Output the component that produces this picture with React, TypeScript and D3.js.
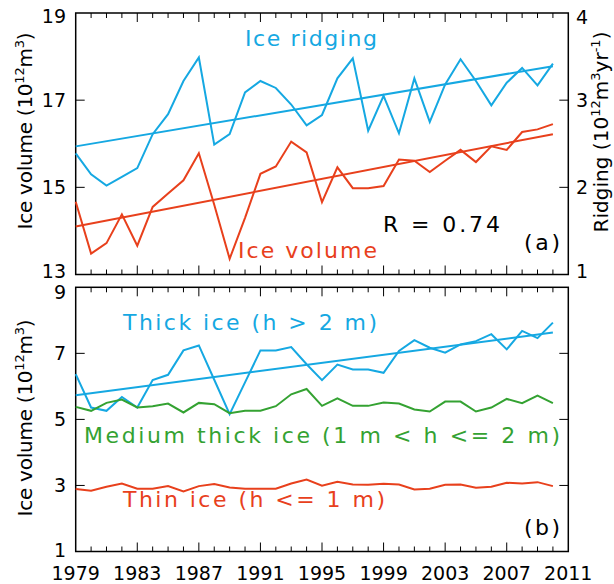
import { useEffect, useRef } from "react";
import * as d3 from "d3";

const years = [
  1979, 1980, 1981, 1982, 1983, 1984, 1985, 1986, 1987, 1988, 1989, 1990, 1991, 1992, 1993, 1994,
  1995, 1996, 1997, 1998, 1999, 2000, 2001, 2002, 2003, 2004, 2005, 2006, 2007, 2008, 2009, 2010,
];
// panel (a)
const iceVolume = [
  14.67, 13.48, 13.72, 14.38, 13.66, 14.55, 14.86, 15.16, 15.78, 14.6, 13.36, 14.3, 15.31, 15.48, 16.05, 15.8,
  14.66, 15.46, 14.98, 14.98, 15.03, 15.64, 15.61, 15.35, 15.61, 15.86, 15.58, 15.94, 15.86, 16.27, 16.33, 16.45,
];
const ridging = [
  2.39, 2.15, 2.02, 2.12, 2.22, 2.61, 2.84, 3.22, 3.49, 2.49, 2.61, 3.09, 3.22, 3.14, 2.95, 2.71,
  2.83, 3.25, 3.48, 2.65, 3.05, 2.62, 3.25, 2.75, 3.18, 3.47, 3.22, 2.94, 3.2, 3.37, 3.17, 3.42,
];
const volumeTrend = [14.1, 16.22];
const ridgingTrend = [2.47, 3.39];
// panel (b)
const thickIce = [
  6.37, 5.36, 5.26, 5.68, 5.36, 6.19, 6.35, 7.09, 7.24, 6.2, 5.16, 6.12, 7.09, 7.09, 7.19, 6.67,
  6.19, 6.66, 6.51, 6.51, 6.41, 7.07, 7.4, 7.17, 7.02, 7.27, 7.37, 7.58, 7.12, 7.68, 7.46, 7.93,
];
const mediumIce = [
  5.38, 5.26, 5.5, 5.6, 5.36, 5.4, 5.48, 5.21, 5.5, 5.46, 5.19, 5.26, 5.26, 5.4, 5.76, 5.92,
  5.41, 5.64, 5.41, 5.41, 5.51, 5.48, 5.3, 5.24, 5.54, 5.54, 5.24, 5.36, 5.62, 5.49, 5.72, 5.49,
];
const thinIce = [
  2.89, 2.84, 2.96, 3.06, 2.9, 2.9, 2.98, 2.82, 2.98, 3.04, 2.94, 2.9, 2.9, 2.9, 3.06, 3.18,
  2.99, 3.11, 3.03, 3.02, 3.05, 3.03, 2.88, 2.9, 3.02, 3.03, 2.93, 2.96, 3.08, 3.06, 3.1, 2.98,
];
const thickTrend = [5.73, 7.63];

const xLabels = [1979, 1983, 1987, 1991, 1995, 1999, 2003, 2007, 2011];
const volumeTicks = [13, 15, 17, 19];
const ridgingTicks = [1, 2, 3, 4];
const layerTicks = [1, 3, 5, 7, 9];

const blue = "#15a8e2";
const red = "#e8401c";
const green = "#34a232";
const font = "'DejaVu Sans', sans-serif";

const left = 75.7, right = 568.3;
const topA = 13, bottomA = 274.5, topB = 287.3, bottomB = 551.5;

export default function App() {
  const svgRef = useRef<SVGSVGElement>(null);

  useEffect(() => {
    const svg = d3.select(svgRef.current);
    svg.selectAll("*").remove();

    const x = d3.scaleLinear().domain([1979, 2011]).range([left, right]);
    const yVol = d3.scaleLinear().domain([13, 19]).range([bottomA, topA]);
    const yRidge = d3.scaleLinear().domain([1, 4]).range([bottomA, topA]);
    const yLayer = d3.scaleLinear().domain([1, 9]).range([bottomB, topB]);

    const minorYears = d3.range(1980, 2011);

    // frame + inward ticks of one panel
    const panel = (y0: number, y1: number, y: any, inner: number[]) => {
      const g = svg.append("g");
      g.append("rect")
        .attr("x", left).attr("y", y0)
        .attr("width", right - left).attr("height", y1 - y0)
        .attr("fill", "none").attr("stroke", "#000").attr("stroke-width", 1.5);

      const size = (yr: number) => ((yr - 1979) % 4 === 0 ? 9 : 5);
      g.selectAll(".tt").data(minorYears).join("line")
        .attr("x1", d => x(d)).attr("x2", d => x(d))
        .attr("y1", y0).attr("y2", d => y0 + size(d))
        .attr("stroke", "#000");
      g.selectAll(".tb").data(minorYears).join("line")
        .attr("x1", d => x(d)).attr("x2", d => x(d))
        .attr("y1", y1).attr("y2", d => y1 - size(d))
        .attr("stroke", "#000");
      g.selectAll(".yl").data(inner).join("line")
        .attr("x1", left).attr("x2", left + 9)
        .attr("y1", d => y(d)).attr("y2", d => y(d))
        .attr("stroke", "#000");
      g.selectAll(".yr").data(inner).join("line")
        .attr("x1", right - 9).attr("x2", right)
        .attr("y1", d => y(d)).attr("y2", d => y(d))
        .attr("stroke", "#000");
    };

    panel(topA, bottomA, yVol, [15, 17]);
    panel(topB, bottomB, yLayer, [3, 5, 7]);

    // tick labels, end labels nudged inside the panel like the original
    const tickText = (data: number[], y: any, tx: number, anchor: string, shiftTop: number, shiftBottom: number) =>
      svg.append("g").selectAll("text").data(data).join("text")
        .attr("x", tx)
        .attr("y", (d, i) => y(d) + (i === data.length - 1 ? shiftTop : i === 0 ? shiftBottom : 0))
        .attr("dy", "0.36em")
        .attr("text-anchor", anchor)
        .attr("font-family", font).attr("font-size", 19)
        .text(d => d);

    tickText(volumeTicks, yVol, 66, "end", 3, -3);
    tickText(ridgingTicks, yRidge, 576, "start", 4, -3);
    tickText(layerTicks, yLayer, 66, "end", 5, -1);

    svg.append("g").selectAll("text").data(xLabels).join("text")
      .attr("x", d => x(d)).attr("y", 580)
      .attr("text-anchor", "middle")
      .attr("font-family", font).attr("font-size", 19)
      .text(d => d);

    // series
    const drawLine = (vals: number[], y: any, color: string) =>
      svg.append("path")
        .datum(vals)
        .attr("fill", "none").attr("stroke", color).attr("stroke-width", 2)
        .attr("d", d3.line<number>().x((_, i) => x(years[i])).y(d => y(d)));

    const drawTrend = (t: number[], y: any, color: string) =>
      svg.append("line")
        .attr("x1", x(years[0])).attr("y1", y(t[0]))
        .attr("x2", x(years[years.length - 1])).attr("y2", y(t[1]))
        .attr("stroke", color).attr("stroke-width", 2);

    drawLine(ridging, yRidge, blue);
    drawTrend(ridgingTrend, yRidge, blue);
    drawLine(iceVolume, yVol, red);
    drawTrend(volumeTrend, yVol, red);

    drawLine(thickIce, yLayer, blue);
    drawTrend(thickTrend, yLayer, blue);
    drawLine(mediumIce, yLayer, green);
    drawLine(thinIce, yLayer, red);

    // annotations
    const label = (txt: string, lx: number, ly: number, len: number, color: string) =>
      svg.append("text")
        .attr("x", lx).attr("y", ly)
        .attr("textLength", len).attr("lengthAdjust", "spacing")
        .attr("font-family", font).attr("font-size", 22)
        .attr("fill", color)
        .text(txt);

    label("Ice ridging", 245, 46, 132, blue);
    label("Ice volume", 238, 258, 139, red);
    label("R = 0.74", 383, 232, 117, "#000");
    label("(a)", 524, 250, 36, "#000");
    label("Thick ice (h > 2 m)", 123, 330, 254, blue);
    label("Medium thick ice (1 m < h <= 2 m)", 84, 443, 476, green);
    label("Thin ice (h <= 1 m)", 123, 507, 262, red);
    label("(b)", 524, 535, 36, "#000");

    // rotated axis titles with superscripts
    const title = (parts: [string, boolean][], tx: number, ty: number, len: number) => {
      const t = svg.append("text")
        .attr("transform", `translate(${tx},${ty}) rotate(-90)`)
        .attr("text-anchor", "middle")
        .attr("textLength", len).attr("lengthAdjust", "spacing")
        .attr("font-family", font).attr("font-size", 20);
      let raised = false;
      parts.forEach(([s, sup]) => {
        const sp = t.append("tspan").text(s);
        if (sup && !raised) { sp.attr("dy", -8).attr("font-size", 13); raised = true; }
        else if (sup) sp.attr("font-size", 13);
        else if (raised) { sp.attr("dy", 8); raised = false; }
      });
    };

    const volParts: [string, boolean][] = [["Ice volume (10", false], ["12", true], ["m", false], ["3", true], [")", false]];
    title(volParts, 32, 131, 197);
    title(volParts, 32, 418, 197);
    title([["Ridging (10", false], ["12", true], ["m", false], ["3", true], ["yr", false], ["-1", true], [")", false]], 608, 132, 201);
  }, []);

  return (
    <svg ref={svgRef} width={614} height={584}
      style={{ position: "absolute", left: 0, top: 0, background: "#fff" }} />
  );
}
